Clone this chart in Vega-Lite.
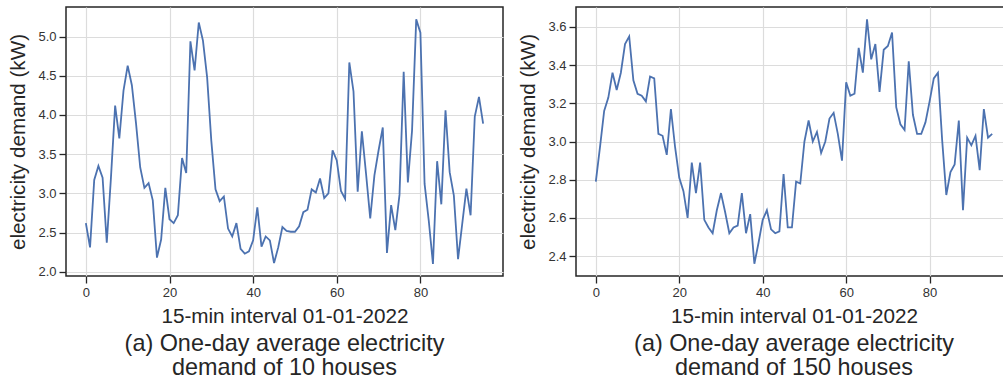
{
  "$schema": "https://vega.github.io/schema/vega-lite/v6.json",
  "background": "white",
  "padding": {"left": 7, "top": 6, "right": 0, "bottom": 0},
  "spacing": 73,
  "bounds": "flush",
  "config": {
    "font": "Liberation Sans",
    "view": {"stroke": "#262626", "strokeWidth": 1.5},
    "axis": {
      "grid": true, "gridColor": "#dcdcdc", "gridWidth": 1.2, "domain": false,
      "tickColor": "#262626", "tickSize": 7, "tickWidth": 1.3,
      "labelFont": "Liberation Sans", "labelFontSize": 13, "labelColor": "#333333", "labelPadding": 3,
      "titleFont": "Liberation Sans", "titleFontSize": 20.7, "titleFontWeight": "normal", "titleColor": "#262626"
    },
    "axisX": {"titlePadding": 7},
    "axisY": {"titlePadding": 9},
    "title": {"font": "Liberation Sans", "fontSize": 23.4, "fontWeight": "normal", "color": "#262626", "orient": "bottom", "lineHeight": 24, "offset": 7}
  },
  "datasets": {
    "h10": [
      {"t":0,"kW":2.62},{"t":1,"kW":2.31},{"t":2,"kW":3.17},{"t":3,"kW":3.35},{"t":4,"kW":3.20},{"t":5,"kW":2.37},{"t":6,"kW":3.20},{"t":7,"kW":4.12},{"t":8,"kW":3.70},{"t":9,"kW":4.31},
      {"t":10,"kW":4.63},{"t":11,"kW":4.38},{"t":12,"kW":3.89},{"t":13,"kW":3.33},{"t":14,"kW":3.07},{"t":15,"kW":3.13},{"t":16,"kW":2.91},{"t":17,"kW":2.18},{"t":18,"kW":2.41},{"t":19,"kW":3.07},
      {"t":20,"kW":2.67},{"t":21,"kW":2.62},{"t":22,"kW":2.72},{"t":23,"kW":3.45},{"t":24,"kW":3.26},{"t":25,"kW":4.94},{"t":26,"kW":4.57},{"t":27,"kW":5.18},{"t":28,"kW":4.95},{"t":29,"kW":4.48},
      {"t":30,"kW":3.67},{"t":31,"kW":3.05},{"t":32,"kW":2.90},{"t":33,"kW":2.96},{"t":34,"kW":2.55},{"t":35,"kW":2.45},{"t":36,"kW":2.62},{"t":37,"kW":2.29},{"t":38,"kW":2.23},{"t":39,"kW":2.26},
      {"t":40,"kW":2.40},{"t":41,"kW":2.82},{"t":42,"kW":2.32},{"t":43,"kW":2.45},{"t":44,"kW":2.40},{"t":45,"kW":2.11},{"t":46,"kW":2.31},{"t":47,"kW":2.57},{"t":48,"kW":2.52},{"t":49,"kW":2.51},
      {"t":50,"kW":2.51},{"t":51,"kW":2.58},{"t":52,"kW":2.76},{"t":53,"kW":2.79},{"t":54,"kW":3.05},{"t":55,"kW":3.01},{"t":56,"kW":3.19},{"t":57,"kW":2.94},{"t":58,"kW":3.00},{"t":59,"kW":3.55},
      {"t":60,"kW":3.42},{"t":61,"kW":3.03},{"t":62,"kW":2.93},{"t":63,"kW":4.67},{"t":64,"kW":4.30},{"t":65,"kW":3.02},{"t":66,"kW":3.79},{"t":67,"kW":3.25},{"t":68,"kW":2.68},{"t":69,"kW":3.23},
      {"t":70,"kW":3.55},{"t":71,"kW":3.84},{"t":72,"kW":2.24},{"t":73,"kW":2.85},{"t":74,"kW":2.53},{"t":75,"kW":2.98},{"t":76,"kW":4.55},{"t":77,"kW":3.14},{"t":78,"kW":3.80},{"t":79,"kW":5.22},
      {"t":80,"kW":5.05},{"t":81,"kW":3.12},{"t":82,"kW":2.65},{"t":83,"kW":2.10},{"t":84,"kW":3.41},{"t":85,"kW":2.86},{"t":86,"kW":4.06},{"t":87,"kW":3.27},{"t":88,"kW":2.97},{"t":89,"kW":2.16},
      {"t":90,"kW":2.61},{"t":91,"kW":3.06},{"t":92,"kW":2.72},{"t":93,"kW":3.98},{"t":94,"kW":4.23},{"t":95,"kW":3.89}
    ],
    "h150": [
      {"t":0,"kW":2.79},{"t":1,"kW":2.97},{"t":2,"kW":3.16},{"t":3,"kW":3.23},{"t":4,"kW":3.36},{"t":5,"kW":3.27},{"t":6,"kW":3.36},{"t":7,"kW":3.51},{"t":8,"kW":3.55},{"t":9,"kW":3.32},
      {"t":10,"kW":3.25},{"t":11,"kW":3.24},{"t":12,"kW":3.21},{"t":13,"kW":3.34},{"t":14,"kW":3.33},{"t":15,"kW":3.04},{"t":16,"kW":3.03},{"t":17,"kW":2.93},{"t":18,"kW":3.17},{"t":19,"kW":2.97},
      {"t":20,"kW":2.81},{"t":21,"kW":2.74},{"t":22,"kW":2.60},{"t":23,"kW":2.89},{"t":24,"kW":2.73},{"t":25,"kW":2.89},{"t":26,"kW":2.59},{"t":27,"kW":2.55},{"t":28,"kW":2.52},{"t":29,"kW":2.64},
      {"t":30,"kW":2.73},{"t":31,"kW":2.63},{"t":32,"kW":2.52},{"t":33,"kW":2.55},{"t":34,"kW":2.56},{"t":35,"kW":2.73},{"t":36,"kW":2.52},{"t":37,"kW":2.62},{"t":38,"kW":2.36},{"t":39,"kW":2.47},
      {"t":40,"kW":2.59},{"t":41,"kW":2.64},{"t":42,"kW":2.54},{"t":43,"kW":2.52},{"t":44,"kW":2.53},{"t":45,"kW":2.83},{"t":46,"kW":2.55},{"t":47,"kW":2.55},{"t":48,"kW":2.79},{"t":49,"kW":2.78},
      {"t":50,"kW":3.00},{"t":51,"kW":3.11},{"t":52,"kW":3.00},{"t":53,"kW":3.05},{"t":54,"kW":2.94},{"t":55,"kW":3.00},{"t":56,"kW":3.12},{"t":57,"kW":3.15},{"t":58,"kW":3.04},{"t":59,"kW":2.90},
      {"t":60,"kW":3.31},{"t":61,"kW":3.24},{"t":62,"kW":3.25},{"t":63,"kW":3.49},{"t":64,"kW":3.36},{"t":65,"kW":3.64},{"t":66,"kW":3.43},{"t":67,"kW":3.51},{"t":68,"kW":3.26},{"t":69,"kW":3.48},
      {"t":70,"kW":3.50},{"t":71,"kW":3.57},{"t":72,"kW":3.18},{"t":73,"kW":3.09},{"t":74,"kW":3.06},{"t":75,"kW":3.42},{"t":76,"kW":3.14},{"t":77,"kW":3.04},{"t":78,"kW":3.04},{"t":79,"kW":3.10},
      {"t":80,"kW":3.21},{"t":81,"kW":3.33},{"t":82,"kW":3.36},{"t":83,"kW":3.01},{"t":84,"kW":2.72},{"t":85,"kW":2.84},{"t":86,"kW":2.88},{"t":87,"kW":3.11},{"t":88,"kW":2.64},{"t":89,"kW":3.02},
      {"t":90,"kW":2.98},{"t":91,"kW":3.03},{"t":92,"kW":2.85},{"t":93,"kW":3.17},{"t":94,"kW":3.02},{"t":95,"kW":3.04}
    ]
  },
  "hconcat": [
    {
      "width": 437, "height": 269,
      "data": {"name": "h10"},
      "title": {"text": ["(a) One-day average electricity", "demand of 10 houses"]},
      "mark": {"type": "line", "color": "#4C72B0", "strokeWidth": 1.8, "clip": true},
      "encoding": {
        "x": {"field": "t", "type": "quantitative", "scale": {"domain": [-4.75, 99.75], "nice": false, "zero": false},
              "axis": {"values": [0, 20, 40, 60, 80], "title": "15-min interval 01-01-2022"}},
        "y": {"field": "kW", "type": "quantitative", "scale": {"domain": [1.945, 5.378], "nice": false, "zero": false},
              "axis": {"values": [2, 2.5, 3, 3.5, 4, 4.5, 5], "format": ".1f", "title": "electricity demand (kW)"}}
      }
    },
    {
      "width": 428, "height": 269,
      "data": {"name": "h150"},
      "title": {"text": ["(a) One-day average electricity", "demand of 150 houses"], "dx": 4},
      "mark": {"type": "line", "color": "#4C72B0", "strokeWidth": 1.8, "clip": true},
      "encoding": {
        "x": {"field": "t", "type": "quantitative", "scale": {"domain": [-4.75, 97.83], "nice": false, "zero": false},
              "axis": {"values": [0, 20, 40, 60, 80], "title": "15-min interval 01-01-2022", "titleX": 218}},
        "y": {"field": "kW", "type": "quantitative", "scale": {"domain": [2.296, 3.704], "nice": false, "zero": false},
              "axis": {"values": [2.4, 2.6, 2.8, 3.0, 3.2, 3.4, 3.6], "format": ".1f", "title": "electricity demand (kW)"}}
      }
    }
  ]
}
